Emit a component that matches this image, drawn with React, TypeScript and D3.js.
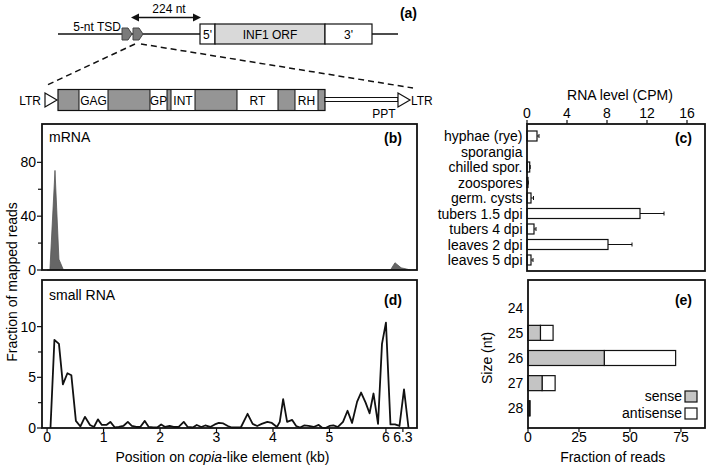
import React from "react";
import * as d3 from "d3";

const FONT = "'Liberation Sans', Arial, Helvetica, sans-serif";

// (b) mRNA coverage (kb, value)
const mrnaPos = [0.0, 0.05, 0.14, 0.21, 0.23, 0.29, 6.08, 6.16, 6.27, 6.36, 6.43];
const mrnaVal = [0, 0, 74, 8, 6, 0, 0, 5.4, 1.6, 0.8, 0];

// (d) small RNA coverage
const smallPos = [0.06, 0.13, 0.21, 0.28, 0.36, 0.43, 0.51, 0.59, 0.67, 0.76, 0.83, 0.9, 0.97, 1.05, 1.12, 1.2, 1.27, 1.35, 1.43, 1.5, 1.58, 1.65, 1.73, 1.8, 1.88, 1.95, 2.02, 2.09, 2.17, 2.24, 2.33, 2.42, 2.49, 2.58, 2.65, 2.73, 2.8, 2.89, 2.97, 3.04, 3.12, 3.2, 3.27, 3.35, 3.43, 3.55, 3.64, 3.72, 3.8, 3.9, 3.98, 4.07, 4.12, 4.18, 4.25, 4.34, 4.41, 4.48, 4.55, 4.63, 4.72, 4.81, 4.87, 4.93, 5.0, 5.07, 5.15, 5.24, 5.32, 5.4, 5.49, 5.56, 5.64, 5.71, 5.78, 5.86, 5.93, 6.0, 6.08, 6.16, 6.24, 6.32, 6.4];
const smallVal = [0, 8.7, 8.3, 4.3, 5.4, 5.2, 0.7, 0.15, 1.1, 0.3, 0.1, 0.85, 0.3, 0.3, 0.6, 0.05, 0.1, 0.2, 0.6, 0.2, 0.1, 0.1, 0.7, 0.1, 0.05, 0.05, 0.35, 0.1, 0.2, 0.1, 0.1, 0.6, 0.1, 0.05, 0.3, 0.1, 0.25, 0.1, 0.35, 0.5, 0.45, 0.2, 0.05, 0.05, 0.05, 1.4, 0.4, 0.2, 0.4, 0.6, 0.5, 0.1, 0.6, 2.85, 0.6, 0.8, 0.2, 0.05, 0.25, 0.2, 0.1, 0.3, 0.03, 0, 0.2, 0.25, 0.1, 0.6, 1.7, 0.5, 2.6, 3.5, 2.5, 1.45, 3.4, 0.4, 8.3, 10.4, 0.35, 0.35, 0.2, 3.8, 0];

const kbTicks = [0, 1, 2, 3, 4, 5, 6, 6.3];
const bTicks = [0, 40, 80];
const bMinor = [20, 60];
const dTicks = [0, 5, 10];
const dMinor = [2.5, 7.5];

// (c) RNA level
const tissues = ["hyphae (rye)", "sporangia", "chilled spor.", "zoospores", "germ. cysts", "tubers 1.5 dpi", "tubers 4 dpi", "leaves 2 dpi", "leaves 5 dpi"];
const rnaLevel = [1.0, 0, 0.27, 0.1, 0.4, 11.3, 0.7, 8.1, 0.4];
const rnaErr = [0.2, 0, 0.05, 0.03, 0.25, 2.4, 0.2, 2.4, 0.2];
const cTicks = [0, 4, 8, 12, 16];

// (e) size distribution
const sizes = ["24", "25", "26", "27", "28"];
const sense = [0, 6.1, 37.4, 6.9, 0.8];
const antisense = [0, 6.2, 35.0, 6.4, 0.2];
const eTicks = [0, 25, 50, 75];

export default function App() {
  const xKb = d3.scaleLinear().domain([-0.09, 6.55]).range([42, 417]);
  const yB = d3.scaleLinear().domain([0, 108.5]).range([270, 124]);
  const yD = d3.scaleLinear().domain([0, 14.6]).range([428, 280]);
  const xC = d3.scaleLinear().domain([0, 17.8]).range([527, 705]);
  const yC = d3.scalePoint<string>().domain(tissues).range([136, 260]);
  const xE = d3.scaleLinear().domain([0, 86.8]).range([528, 705]);
  const yE = d3.scalePoint<string>().domain(sizes).range([307.7, 408.3]);

  const areaB = d3
    .area<[number, number]>()
    .x((d) => xKb(d[0]))
    .y0(yB(0))
    .y1((d) => yB(d[1]))(mrnaPos.map((p, i) => [p, mrnaVal[i]] as [number, number]));
  const lineD = d3
    .line<[number, number]>()
    .x((d) => xKb(d[0]))
    .y((d) => yD(d[1]))(smallPos.map((p, i) => [p, smallVal[i]] as [number, number]));

  const txt = { fontFamily: FONT, fontSize: 14, fill: "#000" } as const;
  const sm = { fontFamily: FONT, fontSize: 12, fill: "#000" } as const;
  const bold = { fontFamily: FONT, fontSize: 14, fontWeight: 700, fill: "#000" } as const;
  const FW = 1.8;

  const pent = (x0: number) =>
    `M${x0},28 L${x0 + 6},28 L${x0 + 10},34 L${x0 + 6},40 L${x0},40 Z`;

  const boxes: [number, number, string][] = [
    [79, 108, "GAG"],
    [150, 167, "GP"],
    [171, 195, "INT"],
    [237, 278, "RT"],
    [295, 318, "RH"],
  ];

  return (
    <svg width={709} height={468} style={{ position: "absolute", left: 0, top: 0, background: "#fff" }}>
      <rect x={0} y={0} width={709} height={468} fill="#fff" />

      {/* ===== (a) diagram ===== */}
      <line x1={58} y1={34} x2={200} y2={34} stroke="#111" strokeWidth={1.5} />
      <line x1={372} y1={34} x2={398} y2={34} stroke="#111" strokeWidth={1.5} />
      <rect x={200} y={24} width={15} height={20} fill="#fff" stroke="#111" strokeWidth={1.2} />
      <rect x={215} y={24} width={110} height={20} fill="#d9d9d9" stroke="#111" strokeWidth={1.2} />
      <rect x={325} y={24} width={47} height={20} fill="#fff" stroke="#111" strokeWidth={1.2} />
      <text {...sm} x={207.5} y={39} textAnchor="middle">5'</text>
      <text {...sm} x={270} y={39} textAnchor="middle">INF1 ORF</text>
      <text {...sm} x={348.5} y={39} textAnchor="middle">3'</text>
      <path d={pent(122)} fill="#7a7a7a" stroke="#444" strokeWidth={1} />
      <path d={pent(133)} fill="#7a7a7a" stroke="#444" strokeWidth={1} />
      <text {...sm} x={121} y={31} textAnchor="end">5-nt TSD</text>
      <text {...sm} x={169} y={13} textAnchor="middle">224 nt</text>
      <line x1={137} y1={17.5} x2={195} y2={17.5} stroke="#111" strokeWidth={1.5} />
      <path d="M131,17.5 L139,13.5 L139,21.5 Z" fill="#111" />
      <path d="M201,17.5 L193,13.5 L193,21.5 Z" fill="#111" />
      <text {...bold} x={417} y={18} textAnchor="end">(a)</text>
      <line x1={135} y1={44} x2={45} y2={86} stroke="#111" strokeWidth={1.5} strokeDasharray="6,4" />
      <line x1={141} y1={44} x2={413} y2={88} stroke="#111" strokeWidth={1.5} strokeDasharray="6,4" />

      <text {...sm} x={41} y={105} textAnchor="end">LTR</text>
      <path d="M45,93 L57,100 L45,107 Z" fill="#fff" stroke="#111" strokeWidth={1.2} />
      <rect x={58} y={89.5} width={267} height={21} fill="#959595" stroke="#111" strokeWidth={1.2} />
      {boxes.map(([a, b, l]) => (
        <g key={l}>
          <rect x={a} y={89.5} width={b - a} height={21} fill="#fff" stroke="#111" strokeWidth={1} />
          <text {...sm} x={(a + b) / 2} y={105} textAnchor="middle">{l}</text>
        </g>
      ))}
      <rect x={325} y={97.5} width={73} height={4} fill="#fff" stroke="#111" strokeWidth={1} />
      <path d="M398,93 L410,100 L398,107 Z" fill="#fff" stroke="#111" strokeWidth={1.2} />
      <text {...sm} x={411} y={105}>LTR</text>
      <text {...sm} x={384} y={118} textAnchor="middle">PPT</text>

      {/* ===== (b) mRNA ===== */}
      <path d={areaB || ""} fill="#666" stroke="#555" strokeWidth={0.8} />
      {bTicks.map((t) => (
        <g key={"b" + t}>
          <line x1={37} x2={42} y1={yB(t)} y2={yB(t)} stroke="#111" strokeWidth={1.2} />
          <text {...txt} x={36} y={yB(t) + 5} textAnchor="end">{t}</text>
        </g>
      ))}
      {bMinor.map((t) => (
        <line key={"bm" + t} x1={38} x2={42} y1={yB(t)} y2={yB(t)} stroke="#111" strokeWidth={1.2} />
      ))}
      <text {...txt} x={49} y={142}>mRNA</text>
      <text {...bold} x={402} y={143} textAnchor="end">(b)</text>
      <rect x={42} y={124} width={375} height={146} fill="none" stroke="#111" strokeWidth={FW} />

      {/* ===== (d) small RNA ===== */}
      <path d={lineD || ""} fill="none" stroke="#111" strokeWidth={1.8} strokeLinejoin="round" />
      {dTicks.map((t) => (
        <g key={"d" + t}>
          <line x1={37} x2={42} y1={yD(t)} y2={yD(t)} stroke="#111" strokeWidth={1.2} />
          <text {...txt} x={36} y={yD(t) + 5} textAnchor="end">{t}</text>
        </g>
      ))}
      {dMinor.map((t) => (
        <line key={"dm" + t} x1={38} x2={42} y1={yD(t)} y2={yD(t)} stroke="#111" strokeWidth={1.2} />
      ))}
      {kbTicks.map((t) => (
        <g key={"k" + t}>
          <line x1={xKb(t)} x2={xKb(t)} y1={428} y2={432} stroke="#111" strokeWidth={1.2} />
          <text {...txt} x={xKb(t)} y={442} textAnchor="middle">{t}</text>
        </g>
      ))}
      <text {...txt} x={222.5} y={462} textAnchor="middle">
        Position on <tspan fontStyle="italic">copia</tspan>-like element (kb)
      </text>
      <text {...txt} x={49} y={300}>small RNA</text>
      <text {...bold} x={402} y={305} textAnchor="end">(d)</text>
      <rect x={42} y={280} width={375} height={148} fill="none" stroke="#111" strokeWidth={FW} />

      <text {...txt} transform="translate(17,282) rotate(-90)" textAnchor="middle">
        Fraction of mapped reads
      </text>

      {/* ===== (c) RNA level ===== */}
      {tissues.map((t, i) => {
        const y = yC(t)!;
        const x0 = xC(0);
        const x1 = xC(rnaLevel[i]);
        const xe = xC(rnaLevel[i] + rnaErr[i]);
        return (
          <g key={t}>
            {rnaLevel[i] > 0 && (
              <rect x={x0} y={y - 5} width={x1 - x0} height={10} fill="#fff" stroke="#111" strokeWidth={1.2} />
            )}
            {rnaErr[i] > 0 && (
              <g>
                <line x1={x1} x2={xe} y1={y} y2={y} stroke="#111" strokeWidth={1} />
                <line x1={xe} x2={xe} y1={y - 2} y2={y + 2} stroke="#111" strokeWidth={1} />
              </g>
            )}
            <text {...txt} x={522.5} y={y + 5} textAnchor="end">{t}</text>
          </g>
        );
      })}
      {cTicks.map((t) => (
        <g key={"c" + t}>
          <line x1={xC(t)} x2={xC(t)} y1={120} y2={124} stroke="#111" strokeWidth={1.2} />
          <text {...txt} x={xC(t)} y={118} textAnchor="middle">{t}</text>
        </g>
      ))}
      <text {...txt} x={620} y={99.5} textAnchor="middle">RNA level (CPM)</text>
      <text {...bold} x={692} y={143} textAnchor="end">(c)</text>
      <rect x={527} y={124} width={178} height={147} fill="none" stroke="#111" strokeWidth={FW} />

      {/* ===== (e) size distribution ===== */}
      {sizes.map((s, i) => {
        const y = yE(s)!;
        const x0 = xE(0);
        const xs = xE(sense[i]);
        const xa = xE(sense[i] + antisense[i]);
        return (
          <g key={s}>
            {antisense[i] > 0 && (
              <rect x={xs} y={y - 7.5} width={xa - xs} height={15} fill="#fff" stroke="#111" strokeWidth={1.2} />
            )}
            {sense[i] > 0 && (
              <rect x={x0} y={y - 7.5} width={xs - x0} height={15} fill="#c4c4c4" stroke="#111" strokeWidth={1.2} />
            )}
            <text {...txt} x={523.3} y={y + 5} textAnchor="end">{s}</text>
          </g>
        );
      })}
      {eTicks.map((t) => (
        <g key={"e" + t}>
          <line x1={xE(t)} x2={xE(t)} y1={428} y2={432} stroke="#111" strokeWidth={1.2} />
          <text {...txt} x={xE(t)} y={442} textAnchor="middle">{t}</text>
        </g>
      ))}
      <text {...txt} x={612.7} y={462} textAnchor="middle">Fraction of reads</text>
      <text {...txt} transform="translate(492,358) rotate(-90)" textAnchor="middle">Size (nt)</text>
      <text {...bold} x={692} y={305} textAnchor="end">(e)</text>
      <text {...txt} x={682} y={401} textAnchor="end">sense</text>
      <rect x={685} y={391} width={12} height={11} fill="#c4c4c4" stroke="#111" strokeWidth={1.2} />
      <text {...txt} x={682} y={418} textAnchor="end">antisense</text>
      <rect x={685} y={408} width={12} height={11} fill="#fff" stroke="#111" strokeWidth={1.2} />
      <rect x={528} y={280} width={177} height={148} fill="none" stroke="#111" strokeWidth={FW} />
    </svg>
  );
}
